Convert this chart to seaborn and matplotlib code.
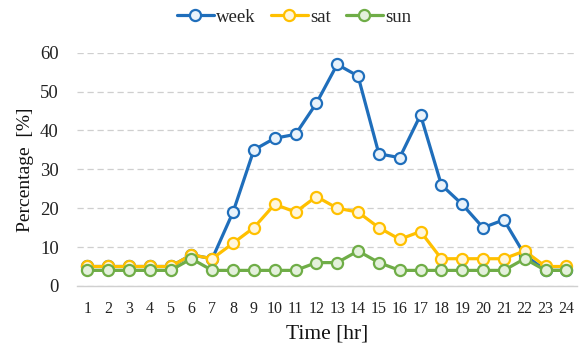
import matplotlib
matplotlib.use("Agg")
import matplotlib.pyplot as plt
import seaborn as sns
import pandas as pd

hours = list(range(1, 25))
week = [5, 5, 5, 5, 5, 8, 7, 19, 35, 38, 39, 47, 57, 54, 34, 33, 44, 26, 21, 15, 17, 8, 4, 4]
sat = [5, 5, 5, 5, 5, 8, 7, 11, 15, 21, 19, 23, 20, 19, 15, 12, 14, 7, 7, 7, 7, 9, 5, 5]
sun = [4, 4, 4, 4, 4, 7, 4, 4, 4, 4, 4, 6, 6, 9, 6, 4, 4, 4, 4, 4, 4, 7, 4, 4]

series = {"week": week, "sat": sat, "sun": sun}
colors = {"week": "#1F6EBB", "sat": "#FFC000", "sun": "#6FAD47"}
faces = {"week": "#EAF3FB", "sat": "#FFF6DC", "sun": "#E4F1DC"}

sns.set_theme(style="white")
plt.rcParams["font.family"] = ["Liberation Serif", "DejaVu Serif"]

fig = plt.figure(figsize=(5.82, 3.47), dpi=100)
ax = fig.add_axes([0.132, 0.176, 0.859, 0.672])

for name, vals in series.items():
    df = pd.DataFrame({"hour": hours, "value": vals})
    sns.lineplot(data=df, x="hour", y="value", ax=ax, color=colors[name],
                 linewidth=2.3, marker="o", markersize=8,
                 markerfacecolor=faces[name], markeredgecolor=colors[name],
                 markeredgewidth=1.6, label=name, zorder=3)

ax.set_xlim(0.5, 24.5)
ax.set_ylim(0, 60)
ax.set_yticks(range(0, 61, 10))
ax.set_xticks(hours)
ax.set_xticklabels([str(h) for h in hours])
ax.grid(axis="y", color="#CFCFCF", linestyle=(0, (5, 3)), linewidth=0.9)
ax.grid(axis="x", visible=False)
for side in ["left", "right", "top"]:
    ax.spines[side].set_visible(False)
ax.spines["bottom"].set_color("#D0D0D0")
ax.spines["bottom"].set_linewidth(1.0)
ax.tick_params(axis="x", length=0, labelsize=11.5, colors="#222222", pad=11)
ax.tick_params(axis="y", length=0, labelsize=13.5, colors="#222222", pad=13)

ax.set_xlabel("Time [hr]", fontsize=15.5, color="#111111", labelpad=5)
ax.set_ylabel("Percentage  [%]", fontsize=14, color="#111111", labelpad=4)

ax.get_legend().remove()
handles, labels = ax.get_legend_handles_labels()
fig.legend(handles, labels, loc="center", bbox_to_anchor=(0.505, 0.951),
           ncol=3, frameon=False, fontsize=13.5, handlelength=2.0,
           handletextpad=0.1, columnspacing=0.8)

fig.savefig("out.png", dpi=100)
